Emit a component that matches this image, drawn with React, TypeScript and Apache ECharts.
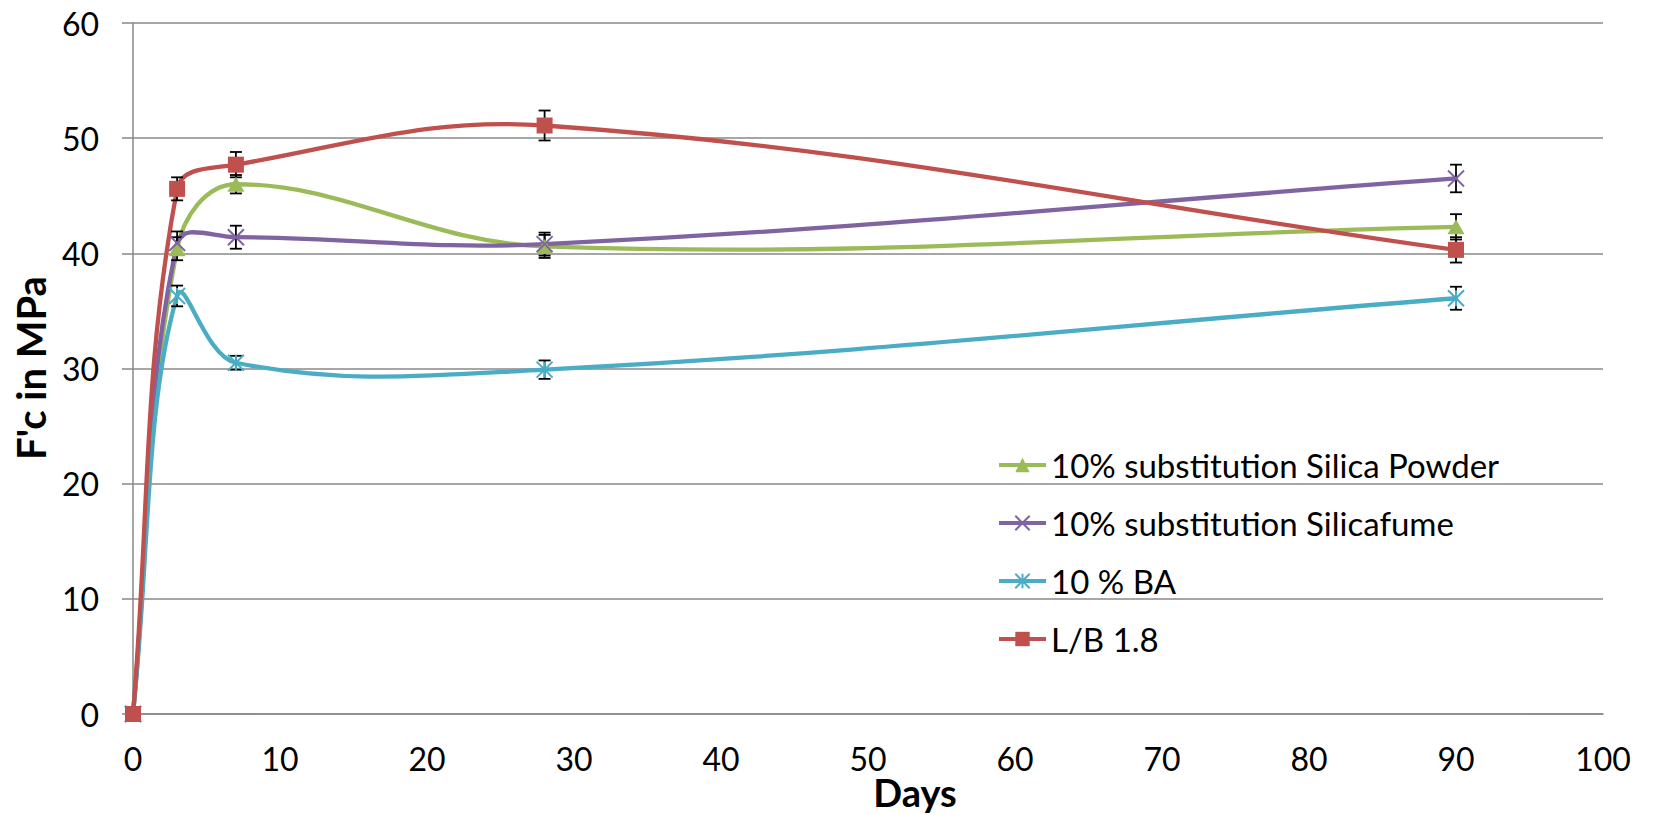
import React, { useEffect, useRef } from "react";
import * as echarts from "echarts";

// ---------- data ----------
const days = [0, 3, 7, 28, 90];
const seriesNames = [
  "10% substitution Silica Powder",
  "10% substitution Silicafume",
  "10 % BA",
  "L/B 1.8",
];
const silicaPowder = [0, 40.4, 46.0, 40.6, 42.3];
const silicaPowderErr = [0, 1.0, 0.8, 1.0, 1.1];
const silicafume = [0, 40.9, 41.4, 40.8, 46.5];
const silicafumeErr = [0, 1.0, 1.0, 1.0, 1.2];
const ba = [0, 36.3, 30.5, 29.9, 36.1];
const baErr = [0, 0.9, 0.6, 0.8, 1.0];
const lb18 = [0, 45.6, 47.7, 51.1, 40.3];
const lb18Err = [0, 1.0, 1.1, 1.3, 1.1];

const xAxisTitle = "Days";
const yAxisTitle = "F'c in MPa";

const colors = ["#9BBB59", "#8064A2", "#4BACC6", "#C0504D"];
const symbols = [
  "triangle",
  "path://M0,0L10,10M10,0L0,10",
  "path://M0,0L10,10M10,0L0,10M5,0L5,10",
  "rect",
];
const FONT = "Lato, 'Liberation Sans', sans-serif";

function smoothPath(pts: number[][]): string {
  const n = pts.length;
  const k = 0.38;
  const dist = (a: number[], b: number[]) => Math.hypot(b[0] - a[0], b[1] - a[1]);
  let d = `M${pts[0][0]},${pts[0][1]}`;
  for (let i = 0; i < n - 1; i++) {
    const p0 = pts[Math.max(i - 1, 0)];
    const p1 = pts[i];
    const p2 = pts[i + 1];
    const p3 = pts[Math.min(i + 2, n - 1)];
    const d01 = dist(p0, p1);
    const d12 = dist(p1, p2);
    const d23 = dist(p2, p3);
    const r1 = d01 + d12 > 0 ? d12 / (d01 + d12) : 0;
    const r2 = d12 + d23 > 0 ? d12 / (d12 + d23) : 0;
    const c1x = p1[0] + (p2[0] - p0[0]) * k * r1;
    const c1y = p1[1] + (p2[1] - p0[1]) * k * r1;
    const c2x = p2[0] - (p3[0] - p1[0]) * k * r2;
    const c2y = p2[1] - (p3[1] - p1[1]) * k * r2;
    d += `C${c1x},${c1y},${c2x},${c2y},${p2[0]},${p2[1]}`;
  }
  return d;
}

export default function App() {
  const ref = useRef<HTMLDivElement>(null);

  useEffect(() => {
    if (!ref.current) return;
    const chart = echarts.init(ref.current, undefined, { renderer: "svg" });
    const allValues = [silicaPowder, silicafume, ba, lb18];
    const allErrs = [silicaPowderErr, silicafumeErr, baErr, lb18Err];

    const curveSeries = allValues.map((vals, si) => ({
      type: "custom",
      name: "curve" + si,
      coordinateSystem: "cartesian2d",
      silent: true,
      z: 2,
      clip: false,
      encode: { x: 0, y: 1 },
      data: days.map((d, i) => [d, vals[i]]),
      renderItem: (params: any, api: any) => {
        if (params.dataIndex !== 0) return null;
        const pts = days.map((d, i) => api.coord([d, vals[i]]));
        return {
          type: "path",
          shape: { pathData: smoothPath(pts) },
          style: { fill: "none", stroke: colors[si], lineWidth: 4.3, lineJoin: "round", lineCap: "round" },
        };
      },
    }));

    const errSeries = allValues.map((vals, si) => ({
      type: "custom",
      name: "err" + si,
      coordinateSystem: "cartesian2d",
      silent: true,
      z: 3,
      clip: false,
      encode: { x: 0, y: 1 },
      data: days.map((d, i) => [d, vals[i], allErrs[si][i]]),
      renderItem: (params: any, api: any) => {
        const x = api.value(0);
        const y = api.value(1);
        const e = api.value(2);
        if (!e) return null;
        const top = api.coord([x, y + e]);
        const bot = api.coord([x, y - e]);
        const w = 6;
        const st = { stroke: "#000", lineWidth: 1.8 };
        return {
          type: "group",
          children: [
            { type: "line", shape: { x1: top[0], y1: top[1], x2: bot[0], y2: bot[1] }, style: st },
            { type: "line", shape: { x1: top[0] - w, y1: top[1], x2: top[0] + w, y2: top[1] }, style: st },
            { type: "line", shape: { x1: bot[0] - w, y1: bot[1], x2: bot[0] + w, y2: bot[1] }, style: st },
          ],
        };
      },
    }));

    const markerSeries = allValues.map((vals, si) => ({
      type: "line",
      name: seriesNames[si],
      z: 4 + si,
      clip: false,
      data: days.map((d, i) => [d, vals[i]]),
      symbol: symbols[si],
      symbolSize: si === 0 ? [17, 15] : 16,
      showAllSymbol: true,
      lineStyle: { width: 4, color: colors[si], opacity: 0 },
      itemStyle: {
        color: colors[si],
        borderColor: colors[si],
        borderWidth: si === 1 || si === 2 ? 2 : 0,
      },
      emphasis: { disabled: true },
    }));

    chart.setOption({
      animation: false,
      backgroundColor: "#fff",
      grid: { left: 133, right: 53, top: 23, bottom: 101, containLabel: false },
      xAxis: {
        type: "value",
        min: 0,
        max: 100,
        interval: 10,
        axisLine: { show: true, onZero: false, lineStyle: { color: "#888", width: 1.5 } },
        axisTick: { show: false },
        splitLine: { show: false },
        axisLabel: { color: "#000", fontFamily: FONT, fontSize: 32, margin: 28 },
      },
      yAxis: {
        type: "value",
        min: 0,
        max: 60,
        interval: 10,
        axisLine: { show: true, lineStyle: { color: "#888", width: 1.5 } },
        axisTick: { show: true, inside: false, length: 11, lineStyle: { color: "#888", width: 1.5 } },
        splitLine: { show: true, lineStyle: { color: "#888", width: 1.5 } },
        axisLabel: { color: "#000", fontFamily: FONT, fontSize: 32, margin: 34 },
      },
      legend: {
        orient: "vertical",
        left: 992,
        top: 442,
        data: seriesNames,
        itemWidth: 47,
        itemHeight: 18,
        itemGap: 22,
        selectedMode: false,
        textStyle: { fontFamily: FONT, fontSize: 33, color: "#000", lineHeight: 36 },
        lineStyle: { opacity: 1, width: 4 },
      },
      graphic: [
        {
          type: "text",
          x: 31,
          y: 368,
          rotation: Math.PI / 2,
          style: {
            text: yAxisTitle,
            fontFamily: FONT,
            fontSize: 40,
            fontWeight: "bold",
            fill: "#000",
            align: "center",
            verticalAlign: "middle",
          },
        },
        {
          type: "text",
          x: 915,
          y: 792,
          style: {
            text: xAxisTitle,
            fontFamily: FONT,
            fontSize: 38,
            fontWeight: "bold",
            fill: "#000",
            align: "center",
            verticalAlign: "middle",
          },
        },
      ],
      series: [...curveSeries, ...errSeries, ...markerSeries],
    });

    return () => chart.dispose();
  }, []);

  return (
    <div
      ref={ref}
      style={{ position: "fixed", left: 0, top: 0, width: 1656, height: 815, background: "#fff" }}
    />
  );
}
